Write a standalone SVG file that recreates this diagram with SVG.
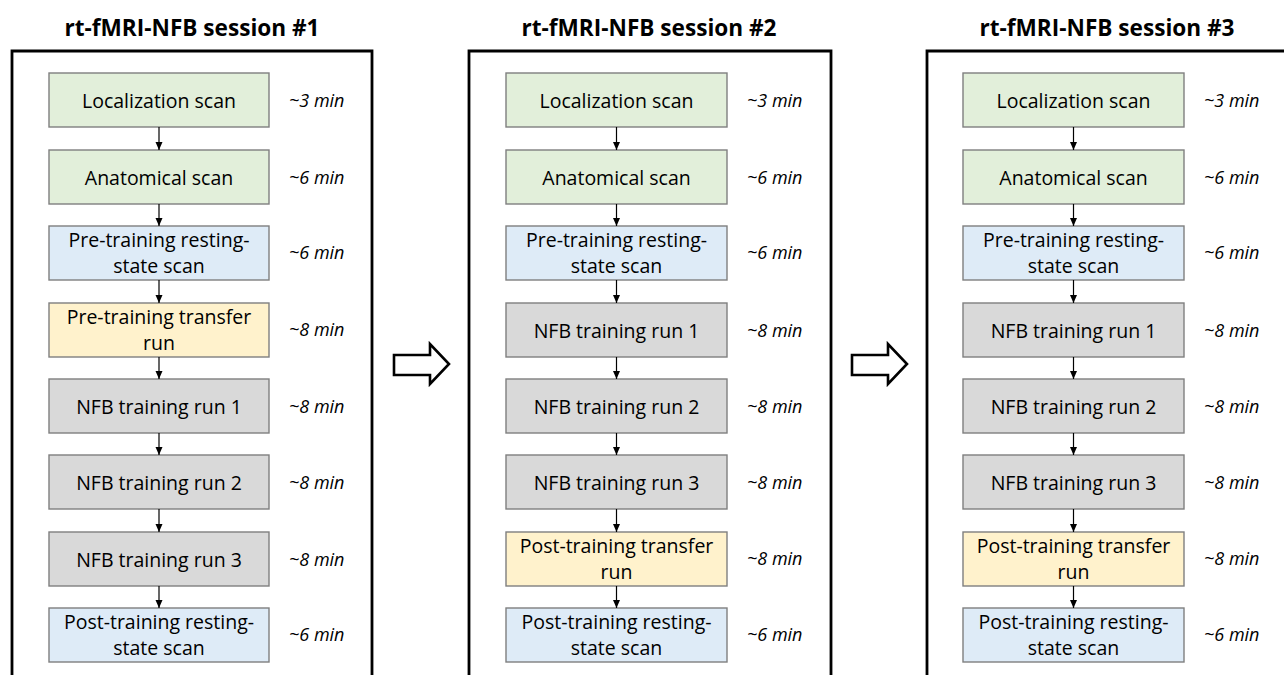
<svg xmlns="http://www.w3.org/2000/svg" width="1284" height="675" viewBox="0 0 1284 675">
  <defs>
    <marker id="tip" viewBox="0 0 8 8" refX="8" refY="4" markerWidth="8" markerHeight="8" markerUnits="userSpaceOnUse" orient="auto">
      <path d="M0,0.5 L8,4 L0,7.5 Z" fill="#000"/>
    </marker>
  </defs>
  <style>
    .title { font-family: "Open Sans", "Liberation Sans", sans-serif; font-weight: 700; font-size: 22.6px; fill: #000; text-anchor: middle; }
    .frame { fill: none; stroke: #000; stroke-width: 2.8; }
    .step { stroke: #7f7f7f; stroke-width: 1.4; }
    .green { fill: #e2efda; }
    .blue { fill: #deebf7; }
    .yellow { fill: #fff2cc; }
    .gray { fill: #d9d9d9; }
    .label { font-family: "Open Sans", "Liberation Sans", sans-serif; font-size: 19.5px; fill: #000; text-anchor: middle; }
    .time { font-family: "Open Sans", "Liberation Sans", sans-serif; font-style: italic; font-size: 18px; fill: #000; }
    .link { stroke: #000; stroke-width: 1.2; fill: none; marker-end: url(#tip); }
    .next { fill: #fff; stroke: #000; stroke-width: 2.6; stroke-linejoin: miter; }
  </style>

  <!-- Session 1 -->
  <g id="session1">
    <text class="title" x="192" y="36">rt-fMRI-NFB session #1</text>
    <path class="frame" d="M12,680 V51 H372 V680"/>
    <g id="s1-localization">
      <rect class="step green" x="49" y="73" width="220" height="54"/>
      <text class="label" x="159" y="108">Localization scan</text>
      <text class="time" x="289" y="107">~3 min</text>
    </g>
    <g id="s1-anatomical">
      <rect class="step green" x="49" y="150" width="220" height="54"/>
      <text class="label" x="159" y="185">Anatomical scan</text>
      <text class="time" x="289" y="184">~6 min</text>
    </g>
    <g id="s1-pre-rest">
      <rect class="step blue" x="49" y="226" width="220" height="54"/>
      <text class="label" x="159" y="247">Pre-training resting-</text>
      <text class="label" x="159" y="273">state scan</text>
      <text class="time" x="289" y="259">~6 min</text>
    </g>
    <g id="s1-pre-transfer">
      <rect class="step yellow" x="49" y="303" width="220" height="54"/>
      <text class="label" x="159" y="324">Pre-training transfer</text>
      <text class="label" x="159" y="350">run</text>
      <text class="time" x="289" y="336">~8 min</text>
    </g>
    <g id="s1-nfb1">
      <rect class="step gray" x="49" y="379" width="220" height="54"/>
      <text class="label" x="159" y="414">NFB training run 1</text>
      <text class="time" x="289" y="413">~8 min</text>
    </g>
    <g id="s1-nfb2">
      <rect class="step gray" x="49" y="455" width="220" height="54"/>
      <text class="label" x="159" y="490">NFB training run 2</text>
      <text class="time" x="289" y="489">~8 min</text>
    </g>
    <g id="s1-nfb3">
      <rect class="step gray" x="49" y="532" width="220" height="54"/>
      <text class="label" x="159" y="567">NFB training run 3</text>
      <text class="time" x="289" y="566">~8 min</text>
    </g>
    <g id="s1-post-rest">
      <rect class="step blue" x="49" y="608" width="220" height="54"/>
      <text class="label" x="159" y="629">Post-training resting-</text>
      <text class="label" x="159" y="655">state scan</text>
      <text class="time" x="289" y="641">~6 min</text>
    </g>
  </g>

  <!-- Session 2 -->
  <g id="session2" transform="translate(457,0)">
    <text class="title" x="192" y="36">rt-fMRI-NFB session #2</text>
    <path class="frame" d="M12,680 V51 H374 V680"/>
    <g id="s2-localization">
      <rect class="step green" x="49" y="73" width="221" height="54"/>
      <text class="label" x="159.5" y="108">Localization scan</text>
      <text class="time" x="290" y="107">~3 min</text>
    </g>
    <g id="s2-anatomical">
      <rect class="step green" x="49" y="150" width="221" height="54"/>
      <text class="label" x="159.5" y="185">Anatomical scan</text>
      <text class="time" x="290" y="184">~6 min</text>
    </g>
    <g id="s2-pre-rest">
      <rect class="step blue" x="49" y="226" width="221" height="54"/>
      <text class="label" x="159.5" y="247">Pre-training resting-</text>
      <text class="label" x="159.5" y="273">state scan</text>
      <text class="time" x="290" y="259">~6 min</text>
    </g>
    <g id="s2-nfb1">
      <rect class="step gray" x="49" y="303" width="221" height="54"/>
      <text class="label" x="159.5" y="338">NFB training run 1</text>
      <text class="time" x="290" y="337">~8 min</text>
    </g>
    <g id="s2-nfb2">
      <rect class="step gray" x="49" y="379" width="221" height="54"/>
      <text class="label" x="159.5" y="414">NFB training run 2</text>
      <text class="time" x="290" y="413">~8 min</text>
    </g>
    <g id="s2-nfb3">
      <rect class="step gray" x="49" y="455" width="221" height="54"/>
      <text class="label" x="159.5" y="490">NFB training run 3</text>
      <text class="time" x="290" y="489">~8 min</text>
    </g>
    <g id="s2-post-transfer">
      <rect class="step yellow" x="49" y="532" width="221" height="54"/>
      <text class="label" x="159.5" y="553">Post-training transfer</text>
      <text class="label" x="159.5" y="579">run</text>
      <text class="time" x="290" y="565">~8 min</text>
    </g>
    <g id="s2-post-rest">
      <rect class="step blue" x="49" y="608" width="221" height="54"/>
      <text class="label" x="159.5" y="629">Post-training resting-</text>
      <text class="label" x="159.5" y="655">state scan</text>
      <text class="time" x="290" y="641">~6 min</text>
    </g>
  </g>

  <!-- Session 3 -->
  <g id="session3" transform="translate(915,0)">
    <text class="title" x="192" y="36">rt-fMRI-NFB session #3</text>
    <path class="frame" d="M12,680 V51 H374 V680"/>
    <g id="s3-localization">
      <rect class="step green" x="48" y="73" width="221" height="54"/>
      <text class="label" x="158.5" y="108">Localization scan</text>
      <text class="time" x="289" y="107">~3 min</text>
    </g>
    <g id="s3-anatomical">
      <rect class="step green" x="48" y="150" width="221" height="54"/>
      <text class="label" x="158.5" y="185">Anatomical scan</text>
      <text class="time" x="289" y="184">~6 min</text>
    </g>
    <g id="s3-pre-rest">
      <rect class="step blue" x="48" y="226" width="221" height="54"/>
      <text class="label" x="158.5" y="247">Pre-training resting-</text>
      <text class="label" x="158.5" y="273">state scan</text>
      <text class="time" x="289" y="259">~6 min</text>
    </g>
    <g id="s3-nfb1">
      <rect class="step gray" x="48" y="303" width="221" height="54"/>
      <text class="label" x="158.5" y="338">NFB training run 1</text>
      <text class="time" x="289" y="337">~8 min</text>
    </g>
    <g id="s3-nfb2">
      <rect class="step gray" x="48" y="379" width="221" height="54"/>
      <text class="label" x="158.5" y="414">NFB training run 2</text>
      <text class="time" x="289" y="413">~8 min</text>
    </g>
    <g id="s3-nfb3">
      <rect class="step gray" x="48" y="455" width="221" height="54"/>
      <text class="label" x="158.5" y="490">NFB training run 3</text>
      <text class="time" x="289" y="489">~8 min</text>
    </g>
    <g id="s3-post-transfer">
      <rect class="step yellow" x="48" y="532" width="221" height="54"/>
      <text class="label" x="158.5" y="553">Post-training transfer</text>
      <text class="label" x="158.5" y="579">run</text>
      <text class="time" x="289" y="565">~8 min</text>
    </g>
    <g id="s3-post-rest">
      <rect class="step blue" x="48" y="608" width="221" height="54"/>
      <text class="label" x="158.5" y="629">Post-training resting-</text>
      <text class="label" x="158.5" y="655">state scan</text>
      <text class="time" x="289" y="641">~6 min</text>
    </g>
  </g>

  <!-- Connectors: step-to-step arrows and session-to-session block arrows -->
  <g id="connectors">
    <g id="links-s1">
      <line class="link" x1="159" y1="127" x2="159" y2="150"/>
      <line class="link" x1="159" y1="204" x2="159" y2="226"/>
      <line class="link" x1="159" y1="280" x2="159" y2="303"/>
      <line class="link" x1="159" y1="357" x2="159" y2="379"/>
      <line class="link" x1="159" y1="433" x2="159" y2="455"/>
      <line class="link" x1="159" y1="509" x2="159" y2="532"/>
      <line class="link" x1="159" y1="586" x2="159" y2="608"/>
    </g>
    <g id="links-s2">
      <line class="link" x1="616.5" y1="127" x2="616.5" y2="150"/>
      <line class="link" x1="616.5" y1="204" x2="616.5" y2="226"/>
      <line class="link" x1="616.5" y1="280" x2="616.5" y2="303"/>
      <line class="link" x1="616.5" y1="357" x2="616.5" y2="379"/>
      <line class="link" x1="616.5" y1="433" x2="616.5" y2="455"/>
      <line class="link" x1="616.5" y1="509" x2="616.5" y2="532"/>
      <line class="link" x1="616.5" y1="586" x2="616.5" y2="608"/>
    </g>
    <g id="links-s3">
      <line class="link" x1="1073.5" y1="127" x2="1073.5" y2="150"/>
      <line class="link" x1="1073.5" y1="204" x2="1073.5" y2="226"/>
      <line class="link" x1="1073.5" y1="280" x2="1073.5" y2="303"/>
      <line class="link" x1="1073.5" y1="357" x2="1073.5" y2="379"/>
      <line class="link" x1="1073.5" y1="433" x2="1073.5" y2="455"/>
      <line class="link" x1="1073.5" y1="509" x2="1073.5" y2="532"/>
      <line class="link" x1="1073.5" y1="586" x2="1073.5" y2="608"/>
    </g>
    <path id="next-1-2" class="next" d="M394,355 H430 V344 L449,364 L430,384 V375 H394 Z"/>
    <path id="next-2-3" class="next" d="M852,355 H888 V344 L907,364 L888,384 V375 H852 Z"/>
  </g>
</svg>
